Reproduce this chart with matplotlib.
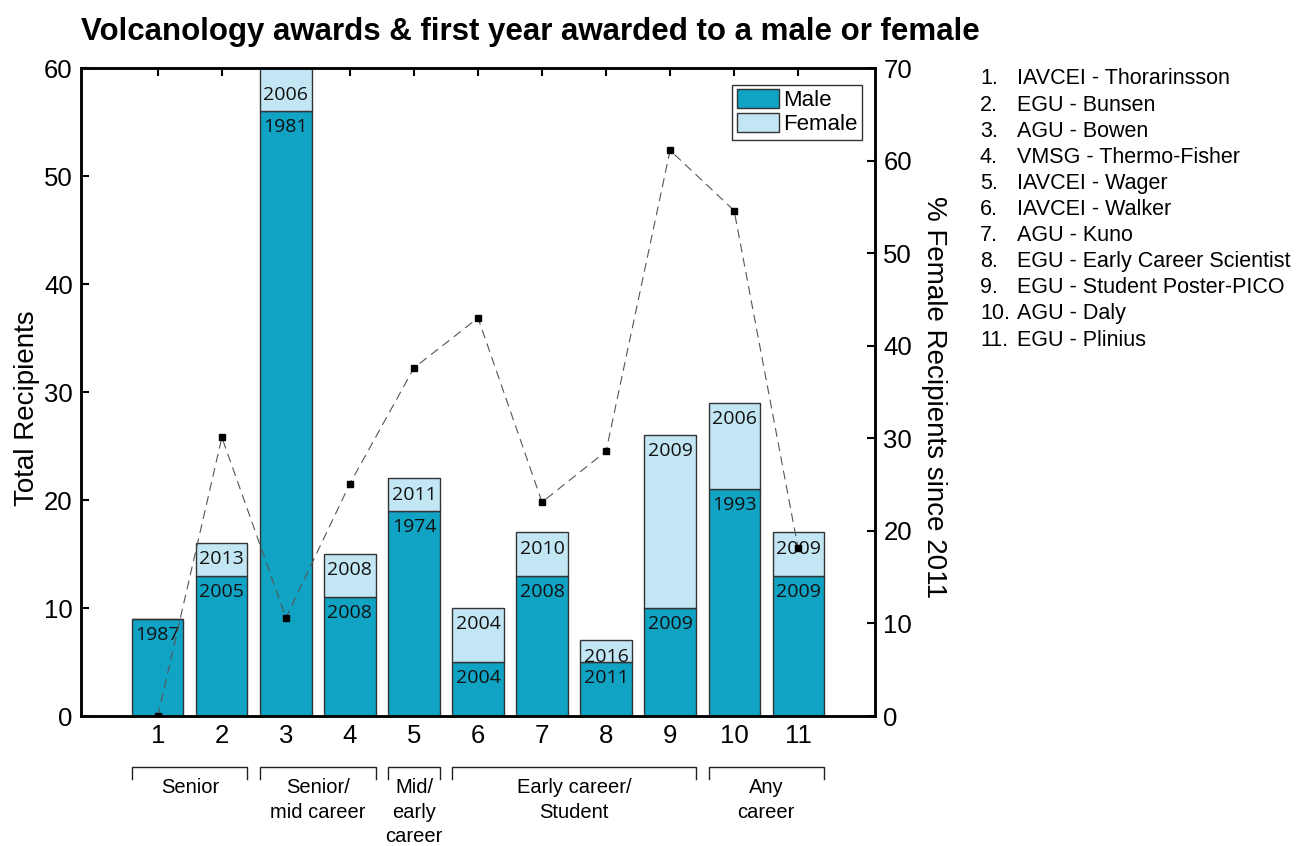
import matplotlib
matplotlib.use("Agg")
import matplotlib.pyplot as plt
import numpy as np
from matplotlib.patches import Patch

plt.rcParams['font.family'] = ['Liberation Sans', 'DejaVu Sans']

# award index, counts and first years
awards = list(range(1, 12))
male = [9, 13, 56, 11, 19, 5, 13, 5, 10, 21, 13]
female = [0, 3, 4, 4, 3, 5, 4, 2, 16, 8, 4]
male_first = ["1987", "2005", "1981", "2008", "1974", "2004", "2008", "2011", "2009", "1993", "2009"]
female_first = ["", "2013", "2006", "2008", "2011", "2004", "2010", "2016", "2009", "2006", "2009"]
pct_female_2011 = [0, 30.1, 10.6, 25.1, 37.6, 43.0, 23.1, 28.6, 61.1, 54.6, 18.1]

award_names = ["IAVCEI - Thorarinsson", "EGU - Bunsen", "AGU - Bowen", "VMSG - Thermo-Fisher",
               "IAVCEI - Wager", "IAVCEI - Walker", "AGU - Kuno", "EGU - Early Career Scientist",
               "EGU - Student Poster-PICO", "AGU - Daly", "EGU - Plinius"]

groups = ["Senior", "Senior/\nmid career", "Mid/\nearly\ncareer", "Early career/\nStudent", "Any\ncareer"]
group_span = [(1, 2), (3, 4), (5, 5), (6, 9), (10, 11)]

c_male = "#10a3c4"
c_female = "#c2e6f3"
edge = "#333333"
W, H = 1298, 846

fig = plt.figure(figsize=(W / 100, H / 100), dpi=100)
ax = fig.add_axes([81 / W, 1 - 716 / H, (875 - 81) / W, (716 - 68) / H])

x = np.array(awards)
male = np.array(male)
female = np.array(female)
ax.bar(x, male, width=0.8, color=c_male, edgecolor=edge, linewidth=1.0, zorder=2)
ax.bar(x, female, width=0.8, bottom=male, color=c_female, edgecolor=edge, linewidth=1.0, zorder=2)

year_font = dict(family=['Open Sans', 'DejaVu Sans'], fontsize=14, color='#111111')
for xi, m, f, ym, yf in zip(x, male, female, male_first, female_first):
    ax.text(xi, m - 1.5, ym, ha='center', va='center', zorder=3, **year_font)
    if yf:
        top = min(m + f, 59)
        ax.text(xi, top - 1.5, yf, ha='center', va='center', zorder=3, **year_font)

ax.set_xlim(-0.2, 12.2)
ax.set_ylim(0, 60)
ax.set_xticks(x)
ax.set_xticklabels([str(a) for a in awards])
ax.set_yticks(range(0, 61, 10))
ax.set_ylabel("Total Recipients", fontsize=20, labelpad=3)
ax.yaxis.label.set_y(0.475)
ax.tick_params(direction='in', length=6, width=1.5, labelsize=18.5, top=True, pad=6)
for s in ax.spines.values():
    s.set_linewidth(1.8)

legend = ax.legend(handles=[Patch(facecolor=c_male, edgecolor=edge, label="Male"),
                            Patch(facecolor=c_female, edgecolor=edge, label="Female")],
                   loc='upper right', bbox_to_anchor=(0.984, 0.974), fontsize=16,
                   fancybox=False, edgecolor='#333333', framealpha=1,
                   handlelength=1.9, handleheight=0.9, handletextpad=0.2,
                   borderpad=0.2, labelspacing=0.1, borderaxespad=0.0)
legend.get_frame().set_linewidth(1.0)

ax2 = ax.twinx()
ax2.plot(x, pct_female_2011, color='#555555', linestyle=(0, (8, 5)), linewidth=0.8,
         marker='s', markersize=5, markerfacecolor='black', markeredgecolor='black')
ax2.set_ylim(0, 70)
ax2.set_yticks(range(0, 71, 10))
ax2.set_ylabel("% Female Recipients since 2011", fontsize=20, rotation=270, labelpad=25)
ax2.yaxis.label.set_y(0.492)
ax2.tick_params(direction='in', length=6, width=1.5, labelsize=18.5, pad=6)
for s in ax2.spines.values():
    s.set_linewidth(1.8)

# career-stage brackets below the axis
trans = ax.get_xaxis_transform()
y_top = -(767 - 716) / 648
y_tick = -(779 - 716) / 648
for label, (a, b) in zip(groups, group_span):
    x0, x1 = a - 0.4, b + 0.4
    ax.plot([x0, x0, x1, x1], [y_tick, y_top, y_top, y_tick], color='#222222',
            linewidth=1.0, transform=trans, clip_on=False)
    ax.text((x0 + x1) / 2, -(778 - 716) / 648, label, transform=trans, ha='center', va='top',
            fontsize=14.5, linespacing=1.37)

fig.text(530 / W, 1 - 32 / H, "Volcanology awards & first year awarded to a male or female",
         ha='center', va='center', fontsize=22.5, fontweight='bold')

for i, name in enumerate(award_names):
    yy = 1 - (79 + i * 26.1) / H
    fig.text(980 / W, yy, f"{i + 1}.", fontsize=15.5, va='center', ha='left')
    fig.text(1017 / W, yy, name, fontsize=15.5, va='center', ha='left')

fig.savefig("out.png", dpi=100)
